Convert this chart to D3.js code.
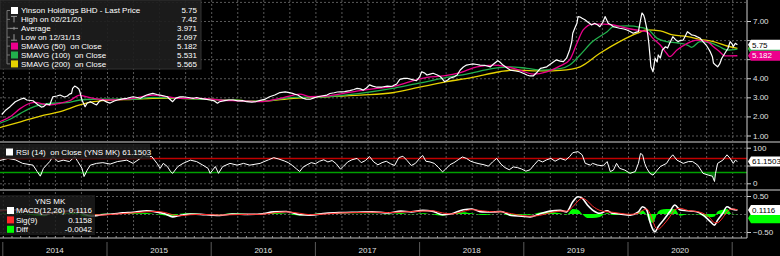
<!DOCTYPE html>
<html>
<head>
<meta charset="utf-8">
<script src="https://d3js.org/d3.v7.min.js"></script>
<style>
  html, body { margin: 0; padding: 0; background: #000; }
  svg { display: block; }
  text { font-family: "Liberation Sans", Arial, sans-serif; font-size: 8px; }
</style>
</head>
<body>
<svg id="chart"></svg>
<script>
// ---- data (decimal year, value) ----
const lastPrice = [
  [2013.99,2.10],[2014.03,2.34],[2014.07,2.51],[2014.12,2.77],[2014.17,2.90],[2014.20,2.96],[2014.23,2.86],[2014.29,2.82],[2014.34,2.60],[2014.37,2.49],
  [2014.39,2.51],[2014.42,2.65],[2014.45,2.60],[2014.48,3.03],[2014.52,3.07],[2014.55,3.12],[2014.59,3.02],[2014.62,3.07],[2014.64,3.17],[2014.66,3.21],
  [2014.67,3.47],[2014.69,3.59],[2014.71,3.53],[2014.73,3.44],[2014.74,3.29],[2014.76,2.86],[2014.79,2.51],[2014.81,2.70],[2014.84,2.77],[2014.88,2.65],
  [2014.90,2.60],[2014.93,2.81],[2014.96,2.86],[2015.00,2.75],[2015.03,2.70],[2015.07,2.81],[2015.10,2.86],[2015.14,2.91],[2015.19,2.95],[2015.22,2.99],
  [2015.25,3.03],[2015.29,2.99],[2015.32,2.95],[2015.36,3.07],[2015.38,3.12],[2015.41,3.17],[2015.44,3.21],[2015.48,3.15],[2015.51,3.12],[2015.55,3.07],
  [2015.58,3.03],[2015.60,2.91],[2015.63,2.77],[2015.66,2.96],[2015.70,3.02],[2015.73,3.03],[2015.78,2.99],[2015.83,2.95],[2015.86,2.99],[2015.89,2.95],
  [2015.94,2.91],[2015.99,2.86],[2016.03,2.81],[2016.06,2.69],[2016.08,2.77],[2016.13,2.83],[2016.17,2.86],[2016.21,2.86],[2016.26,2.81],[2016.30,2.83],
  [2016.34,2.77],[2016.39,2.75],[2016.43,2.78],[2016.47,2.84],[2016.52,2.91],[2016.56,3.03],[2016.61,3.12],[2016.66,3.25],[2016.71,3.29],[2016.75,3.25],
  [2016.78,3.21],[2016.80,3.17],[2016.83,3.12],[2016.88,2.95],[2016.91,2.91],[2016.95,2.90],[2016.98,2.96],[2017.02,3.03],[2017.06,3.07],[2017.11,3.12],
  [2017.14,3.20],[2017.18,3.24],[2017.21,3.28],[2017.24,3.29],[2017.28,3.30],[2017.33,3.35],[2017.37,3.41],[2017.40,3.47],[2017.43,3.44],[2017.46,3.38],
  [2017.49,3.49],[2017.52,3.65],[2017.55,3.59],[2017.59,3.53],[2017.64,3.54],[2017.69,3.59],[2017.72,3.57],[2017.74,3.59],[2017.78,3.70],[2017.81,3.94],
  [2017.85,3.99],[2017.88,4.00],[2017.93,3.93],[2017.97,3.87],[2018.00,4.07],[2018.02,4.34],[2018.05,4.27],[2018.07,4.17],[2018.10,4.22],[2018.13,4.26],
  [2018.17,4.17],[2018.20,4.08],[2018.22,3.96],[2018.24,3.82],[2018.27,3.91],[2018.29,4.00],[2018.33,4.07],[2018.36,4.17],[2018.39,4.43],[2018.42,4.59],
  [2018.45,4.69],[2018.48,4.72],[2018.51,4.75],[2018.55,4.72],[2018.58,4.69],[2018.63,4.67],[2018.68,4.60],[2018.71,4.75],[2018.75,4.92],[2018.77,4.85],
  [2018.80,4.69],[2018.84,4.54],[2018.87,4.43],[2018.92,4.38],[2018.96,4.34],[2019.00,4.25],[2019.03,4.17],[2019.06,4.12],[2019.09,4.12],[2019.13,4.33],
  [2019.16,4.52],[2019.18,4.54],[2019.22,4.60],[2019.27,4.80],[2019.31,4.96],[2019.35,4.90],[2019.38,4.87],[2019.41,5.05],[2019.44,5.48],[2019.46,5.90],
  [2019.47,6.36],[2019.49,6.63],[2019.51,6.88],[2019.52,7.23],[2019.54,7.21],[2019.56,7.14],[2019.59,7.05],[2019.61,6.96],[2019.64,6.84],[2019.65,6.79],
  [2019.68,6.88],[2019.71,6.79],[2019.73,6.70],[2019.76,6.95],[2019.78,7.23],[2019.81,6.88],[2019.84,6.79],[2019.86,6.70],[2019.89,6.66],[2019.92,6.62],
  [2019.96,6.58],[2019.99,6.53],[2020.02,6.45],[2020.05,6.36],[2020.08,6.42],[2020.10,6.44],[2020.12,7.05],[2020.134,7.42],[2020.15,7.31],[2020.16,7.14],
  [2020.18,6.62],[2020.19,6.27],[2020.20,5.83],[2020.21,5.22],[2020.22,4.60],[2020.24,4.34],[2020.26,5.05],[2020.28,4.85],[2020.29,5.22],[2020.31,5.06],
  [2020.33,5.48],[2020.36,5.65],[2020.38,5.58],[2020.40,5.83],[2020.43,6.18],[2020.46,6.00],[2020.48,5.92],[2020.50,5.98],[2020.53,6.00],[2020.55,6.21],
  [2020.57,6.44],[2020.60,6.32],[2020.61,6.27],[2020.64,6.24],[2020.66,6.18],[2020.69,6.11],[2020.72,5.92],[2020.75,5.74],[2020.77,5.57],[2020.79,5.38],
  [2020.81,5.13],[2020.82,4.80],[2020.84,4.69],[2020.86,4.60],[2020.88,4.75],[2020.90,5.05],[2020.93,5.31],[2020.96,5.57],[2020.98,5.92],[2021.00,5.79],
  [2021.01,5.65],[2021.03,5.83],[2021.05,5.75]
];

const sma50 = [
  [2013.97,1.72],[2014.07,1.98],[2014.17,2.42],[2014.26,2.69],[2014.31,2.74],[2014.39,2.65],[2014.45,2.60],[2014.55,2.69],[2014.64,2.82],[2014.74,3.12],
  [2014.77,3.07],[2014.87,2.95],[2015.03,2.86],[2015.25,2.95],[2015.44,3.12],[2015.58,3.03],[2015.70,2.95],[2015.89,2.95],[2016.08,2.86],[2016.28,2.82],
  [2016.47,2.77],[2016.66,2.95],[2016.79,3.12],[2016.85,3.17],[2016.95,3.03],[2017.11,3.07],[2017.27,3.21],[2017.43,3.35],[2017.59,3.47],[2017.74,3.56],
  [2017.91,3.82],[2018.07,4.05],[2018.23,4.12],[2018.39,4.29],[2018.55,4.60],[2018.71,4.69],[2018.80,4.64],[2018.96,4.43],[2019.09,4.22],[2019.22,4.34],
  [2019.35,4.65],[2019.44,4.96],[2019.51,5.83],[2019.57,6.53],[2019.66,6.84],[2019.76,6.84],[2019.86,6.79],[2019.99,6.62],[2020.12,6.49],[2020.18,6.44],
  [2020.24,6.09],[2020.31,5.74],[2020.37,5.31],[2020.40,5.13],[2020.47,5.48],[2020.57,5.83],[2020.66,6.00],[2020.76,5.92],[2020.82,5.65],[2020.88,5.39],
  [2020.93,5.17],[2021.05,5.18]
];

const sma100 = [
  [2013.97,1.64],[2014.07,1.85],[2014.17,2.16],[2014.26,2.42],[2014.36,2.60],[2014.48,2.69],[2014.61,2.72],[2014.74,2.86],[2014.87,2.90],[2015.03,2.90],
  [2015.25,2.90],[2015.44,3.00],[2015.70,2.95],[2015.96,2.90],[2016.21,2.86],[2016.47,2.79],[2016.79,3.00],[2017.11,3.03],[2017.43,3.21],[2017.74,3.47],
  [2017.91,3.65],[2018.07,3.82],[2018.26,4.05],[2018.45,4.22],[2018.71,4.52],[2018.87,4.60],[2019.03,4.52],[2019.18,4.43],[2019.35,4.50],[2019.44,4.69],
  [2019.54,5.22],[2019.66,5.92],[2019.80,6.44],[2019.86,6.70],[2019.99,6.74],[2020.12,6.67],[2020.19,6.57],[2020.28,6.09],[2020.37,5.92],[2020.47,5.86],
  [2020.57,5.74],[2020.61,5.62],[2020.69,5.92],[2020.79,5.86],[2020.88,5.65],[2020.95,5.48],[2021.05,5.53]
];

const sma200 = [
  [2013.97,1.41],[2014.17,1.72],[2014.36,2.02],[2014.55,2.25],[2014.74,2.60],[2014.87,2.77],[2015.03,2.86],[2015.25,2.90],[2015.44,2.95],[2015.70,2.95],
  [2015.96,2.90],[2016.21,2.86],[2016.47,2.79],[2016.79,2.95],[2017.11,3.03],[2017.43,3.12],[2017.74,3.24],[2018.00,3.53],[2018.26,3.82],[2018.51,4.05],
  [2018.77,4.34],[2018.90,4.43],[2019.09,4.39],[2019.28,4.39],[2019.35,4.41],[2019.54,4.60],[2019.73,5.31],[2019.92,5.92],[2020.09,6.36],[2020.18,6.53],
  [2020.31,6.48],[2020.43,6.27],[2020.57,6.18],[2020.69,6.04],[2020.82,5.92],[2020.95,5.69],[2021.05,5.565]
];

const rsi14 = [
  [2013.97,64],[2014.05,70],[2014.12,66],[2014.19,56],[2014.29,51],[2014.33,33],[2014.36,20],[2014.39,42],[2014.45,61],[2014.48,75],
  [2014.53,61],[2014.58,65],[2014.64,61],[2014.69,75],[2014.72,61],[2014.76,42],[2014.78,19],[2014.81,37],[2014.84,51],[2014.90,56],
  [2014.96,58],[2015.03,54],[2015.10,61],[2015.19,65],[2015.25,56],[2015.32,70],[2015.35,80],[2015.38,75],[2015.43,75],[2015.48,56],
  [2015.51,42],[2015.54,56],[2015.58,47],[2015.61,33],[2015.63,28],[2015.68,47],[2015.73,56],[2015.80,65],[2015.86,61],[2015.92,51],
  [2015.97,42],[2015.99,28],[2016.04,47],[2016.07,28],[2016.11,47],[2016.18,56],[2016.25,51],[2016.31,56],[2016.37,51],[2016.47,56],
  [2016.50,60],[2016.55,66],[2016.60,72],[2016.65,68],[2016.70,63],[2016.74,58],[2016.78,50],[2016.82,40],[2016.85,33],[2016.88,45],
  [2016.92,52],[2016.96,58],[2017.00,55],[2017.04,62],[2017.08,66],[2017.12,60],[2017.16,64],[2017.20,55],[2017.24,40],[2017.27,48],
  [2017.31,60],[2017.35,66],[2017.40,70],[2017.44,58],[2017.48,64],[2017.52,75],[2017.56,60],[2017.60,52],[2017.64,58],[2017.68,62],
  [2017.72,55],[2017.76,50],[2017.80,72],[2017.84,76],[2017.88,64],[2017.92,50],[2017.96,56],[2018.00,70],[2018.03,78],[2018.06,62],
  [2018.10,60],[2018.14,56],[2018.18,45],[2018.22,32],[2018.25,40],[2018.29,52],[2018.33,58],[2018.37,66],[2018.41,74],[2018.45,70],
  [2018.49,62],[2018.53,58],[2018.57,55],[2018.62,52],[2018.66,48],[2018.70,60],[2018.74,70],[2018.78,54],[2018.82,44],[2018.86,38],
  [2018.90,46],[2018.94,44],[2018.98,40],[2019.02,34],[2019.06,38],[2019.10,52],[2019.14,65],[2019.18,60],[2019.22,66],[2019.26,70],
  [2019.30,62],[2019.35,70],[2019.40,65],[2019.44,75],[2019.47,86],[2019.52,89],[2019.56,80],[2019.59,56],[2019.64,51],[2019.66,56],
  [2019.71,51],[2019.76,49],[2019.80,61],[2019.83,33],[2019.86,37],[2019.89,56],[2019.92,42],[2019.97,37],[2020.02,28],[2020.07,33],
  [2020.10,56],[2020.12,84],[2020.14,80],[2020.16,56],[2020.18,42],[2020.21,28],[2020.24,23],[2020.28,37],[2020.31,47],[2020.37,56],
  [2020.40,70],[2020.43,80],[2020.47,65],[2020.53,56],[2020.58,61],[2020.62,61],[2020.67,51],[2020.72,28],[2020.77,23],[2020.81,20],
  [2020.83,5],[2020.84,28],[2020.86,56],[2020.91,65],[2020.95,80],[2020.98,70],[2021.01,56],[2021.03,65],[2021.05,61.15]
];

const macdDates = [
  2013.97,2014.10,2014.25,2014.40,2014.50,2014.62,2014.70,2014.78,2014.85,2014.95,2015.05,2015.15,2015.25,2015.38,2015.47,2015.56,2015.63,2015.70,
  2015.80,2015.90,2016.00,2016.08,2016.20,2016.35,2016.47,2016.60,2016.72,2016.85,2016.95,2017.10,2017.25,2017.40,2017.55,2017.70,2017.82,2017.92,
  2018.03,2018.12,2018.22,2018.30,2018.42,2018.50,2018.60,2018.72,2018.78,2018.88,2018.98,2019.06,2019.15,2019.25,2019.35,2019.41,2019.47,2019.52,
  2019.56,2019.61,2019.66,2019.73,2019.80,2019.85,2019.92,2020.02,2020.10,2020.14,2020.18,2020.21,2020.24,2020.26,2020.29,2020.34,2020.40,2020.45,
  2020.50,2020.57,2020.66,2020.72,2020.79,2020.83,2020.86,2020.91,2020.95,2021.00,2021.05
];
const macdLine = [
  0.10,0.12,0.08,-0.02,0.06,0.08,0.12,0.00,-0.06,-0.02,0.00,0.03,0.05,0.09,0.06,0.00,-0.08,-0.04,
  0.00,-0.01,-0.03,-0.04,0.00,-0.01,0.00,0.06,0.07,-0.02,-0.03,0.02,0.04,0.05,0.06,0.03,0.08,0.06,
  0.10,0.08,-0.02,0.00,0.12,0.14,0.06,0.06,0.07,-0.04,-0.06,-0.08,0.00,0.08,0.10,0.06,0.34,0.48,
  0.44,0.25,0.11,0.02,0.09,0.02,0.00,-0.03,0.06,0.20,0.11,-0.21,-0.44,-0.49,-0.35,-0.17,0.06,0.25,
  0.11,0.09,0.06,-0.03,-0.21,-0.31,-0.17,0.02,0.20,0.13,0.1116
];
const signalLine = [
  0.09,0.10,0.10,0.04,0.02,0.06,0.08,0.07,0.00,-0.03,-0.01,0.01,0.03,0.06,0.07,0.04,-0.02,-0.05,
  -0.02,-0.01,-0.02,-0.03,-0.02,-0.01,-0.01,0.03,0.06,0.02,-0.02,0.00,0.03,0.04,0.05,0.04,0.05,0.07,
  0.08,0.09,0.03,0.00,0.07,0.12,0.09,0.06,0.06,0.01,-0.04,-0.06,-0.04,0.03,0.08,0.08,0.20,0.36,
  0.44,0.36,0.22,0.10,0.06,0.05,0.02,-0.01,0.02,0.10,0.14,0.02,-0.20,-0.36,-0.42,-0.30,-0.08,0.12,
  0.16,0.10,0.07,0.02,-0.12,-0.24,-0.24,-0.10,0.06,0.14,0.1158
];
const diffLine = [
  0.01,0.02,-0.02,-0.06,0.04,0.02,0.04,-0.07,-0.06,0.01,0.01,0.02,0.02,0.03,-0.01,-0.04,-0.06,0.01,
  0.02,0.00,-0.01,-0.01,0.02,0.00,0.01,0.03,0.01,-0.04,-0.01,0.02,0.01,0.01,0.01,-0.01,0.03,-0.01,
  0.02,-0.01,-0.05,0.00,0.05,0.02,-0.03,0.00,0.01,-0.05,-0.02,-0.02,0.04,0.05,0.02,-0.02,0.14,0.12,
  0.00,-0.11,-0.11,-0.08,0.03,-0.03,-0.02,-0.02,0.04,0.10,-0.03,-0.23,-0.24,-0.13,0.07,0.13,0.14,0.13,
  -0.05,-0.01,-0.01,-0.05,-0.09,-0.07,0.07,0.12,0.14,-0.01,-0.0042
];

const priceTicks = [1, 2, 3, 4, 5, 6, 7];
const priceGrid = [1, 2, 3, 4, 5, 6, 7, 8];
const rsiTicks = [0, 50, 100];
const rsiBands = [70, 30];
const macdTicks = [-0.5, 0, 0.5];
const years = [2014, 2015, 2016, 2017, 2018, 2019, 2020];

const legendLabels = ["Yinson Holdings BHD - Last Price", "High on 02/21/20", "Average", "Low on 12/31/13",
  "SMAVG (50)  on Close", "SMAVG (100)  on Close", "SMAVG (200)  on Close"];
const legendValues = ["5.75", "7.42", "3.971", "2.097", "5.182", "5.531", "5.565"];
const rsiLegend = "RSI (14)  on Close (YNS MK) 61.1503";
const rsiLast = "61.1503";
const macdTitle = "YNS MK";
const macdLabels = ["MACD(12,26)", "Sig(9)", "Diff"];
const macdValues = ["0.1116", "0.1158", "-0.0042"];

// ---- layout ----
const width = 780, height = 256;
const right = 747;
const axisY = 238;
const colors = {
  price: "#ffffff", sma50: "#ec008c", sma100: "#22b14c", sma200: "#e6d200",
  grid: "#585858", ob: "#c00000", os: "#00a000", sig: "#ff2a2a", diff: "#00ff00", label: "#e0e0e0"
};

const svg = d3.select("#chart").attr("width", width).attr("height", height);
svg.append("rect").attr("width", width).attr("height", height).attr("fill", "#000");

const x = d3.scaleLinear().domain([2015, 2020]).range([107, 628]);
const yPrice = d3.scaleLinear().domain([1, 7]).range([135.5, 21]);
const yRsi = d3.scaleLinear().domain([0, 100]).range([183.3, 147.7]);
const yMacd = d3.scaleLinear().domain([-0.5, 0.5]).range([232, 196]);

const defs = svg.append("defs");
[["clipPrice", 0, 141], ["clipRsi", 143, 189], ["clipMacd", 191, axisY]].forEach(c => {
  defs.append("clipPath").attr("id", c[0])
    .append("rect").attr("x", 0).attr("y", c[1]).attr("width", right).attr("height", c[2] - c[1]);
});

// vertical quarterly grid
const quarters = d3.range(2014, 2021.01, 0.25);
svg.append("g")
  .attr("transform", "translate(0," + axisY + ")")
  .call(d3.axisBottom(x).tickValues(quarters).tickSize(-axisY).tickFormat(""))
  .call(g => g.select(".domain").remove())
  .selectAll("line")
  .attr("stroke", colors.grid)
  .attr("stroke-dasharray", "2,2");

// horizontal grids
function hGrid(scale, values) {
  svg.append("g")
    .call(d3.axisRight(scale).tickValues(values).tickSize(right).tickFormat(""))
    .call(g => g.select(".domain").remove())
    .selectAll("line")
    .attr("stroke", colors.grid)
    .attr("stroke-dasharray", "2,2");
}
hGrid(yPrice, priceGrid);
hGrid(yRsi, rsiTicks);
hGrid(yMacd, macdTicks);

// panel separators
[142, 190].forEach(yy => {
  svg.append("line").attr("x1", 0).attr("x2", width).attr("y1", yy).attr("y2", yy)
    .attr("stroke", "#6a6a6a").attr("stroke-width", 2);
});

// ---- price panel ----
const pricePanel = svg.append("g").attr("clip-path", "url(#clipPrice)");
const priceLine = d3.line().x(d => x(d[0])).y(d => yPrice(d[1]));
[[sma200, colors.sma200], [sma100, colors.sma100], [sma50, colors.sma50]].forEach(s => {
  pricePanel.append("path").datum(s[0])
    .attr("fill", "none").attr("stroke", s[1]).attr("stroke-width", 1.3)
    .attr("d", priceLine.curve(d3.curveMonotoneX));
});
pricePanel.append("path").datum(lastPrice)
  .attr("fill", "none").attr("stroke", colors.price).attr("stroke-width", 1.2)
  .attr("stroke-linejoin", "round")
  .attr("d", priceLine.curve(d3.curveLinear));

// ---- rsi panel ----
const rsiPanel = svg.append("g").attr("clip-path", "url(#clipRsi)");
rsiPanel.append("path").datum(rsi14)
  .attr("fill", "#0b6b12")
  .attr("d", d3.area().x(d => x(d[0])).y0(yRsi(30)).y1(d => yRsi(Math.min(d[1], 30))));
rsiBands.forEach((b, i) => {
  rsiPanel.append("line").attr("x1", 0).attr("x2", right).attr("y1", yRsi(b)).attr("y2", yRsi(b))
    .attr("stroke", i === 0 ? colors.ob : colors.os).attr("stroke-width", 1.5);
});
rsiPanel.append("path").datum(rsi14)
  .attr("fill", "none").attr("stroke", "#fff").attr("stroke-width", 1)
  .attr("d", d3.line().x(d => x(d[0])).y(d => yRsi(d[1])));

// ---- macd panel ----
const macdPanel = svg.append("g").attr("clip-path", "url(#clipMacd)");
macdPanel.append("path").datum(macdDates)
  .attr("fill", colors.diff)
  .attr("d", d3.area().x(d => x(d)).y0(yMacd(0)).y1((d, i) => yMacd(diffLine[i])).curve(d3.curveMonotoneX));
macdPanel.append("path").datum(macdDates)
  .attr("fill", "none").attr("stroke", "#fff").attr("stroke-width", 1.6)
  .attr("d", d3.line().x(d => x(d)).y((d, i) => yMacd(macdLine[i])).curve(d3.curveMonotoneX));
macdPanel.append("path").datum(macdDates)
  .attr("fill", "none").attr("stroke", colors.sig).attr("stroke-width", 1)
  .attr("d", d3.line().x(d => x(d)).y((d, i) => yMacd(signalLine[i])).curve(d3.curveMonotoneX));

// ---- bottom axis ----
const months = d3.range(2014, 2021.1, 1 / 12);
svg.append("g")
  .attr("transform", "translate(0," + axisY + ")")
  .call(d3.axisBottom(x).tickValues(months).tickSize(-2).tickFormat(""))
  .call(g => g.select(".domain").attr("d", "M0,0H" + right).attr("stroke", "#bbb"))
  .selectAll(".tick line").attr("stroke", "#999");

svg.append("g").selectAll("line")
  .data(years.concat([2021]))
  .enter().append("line")
  .attr("x1", d => x(d)).attr("x2", d => x(d))
  .attr("y1", 242).attr("y2", height)
  .attr("stroke", "#5a5a5a");

svg.append("g").selectAll("text")
  .data(years)
  .enter().append("text")
  .attr("x", d => x(d + 0.5))
  .attr("y", 253)
  .attr("text-anchor", "middle")
  .attr("fill", colors.label)
  .text(d => d);

// ---- right axis ----
svg.append("line").attr("x1", right).attr("x2", right).attr("y1", 0).attr("y2", axisY)
  .attr("stroke", "#cfcfcf");

// labels that sit under a value tag are covered in the original, so only their tick is drawn
function rightAxis(scale, values, fmt, covered) {
  svg.append("g")
    .attr("transform", "translate(" + right + ",0)")
    .call(d3.axisRight(scale).tickValues(values).tickSize(4).tickPadding(2)
      .tickFormat(d => covered.includes(d) ? "" : fmt(d)))
    .call(g => g.select(".domain").remove())
    .call(g => g.selectAll("line").attr("stroke", "#cfcfcf"))
    .call(g => g.selectAll("text").attr("fill", colors.label).attr("font-size", 8)
      .attr("font-family", "Liberation Sans, Arial, sans-serif"));
}
rightAxis(yPrice, priceTicks, d3.format(".2f"), [5, 6]);
rightAxis(yRsi, rsiTicks, d3.format("d"), [50]);
rightAxis(yMacd, macdTicks.filter(d => d !== 0), d3.format(".2f"), []);

// value tags
function tagShape(yy, fill) {
  svg.append("path")
    .attr("d", "M" + (right + 1) + "," + yy + "L" + (right + 4) + "," + (yy - 5) + "H" + width +
      "V" + (yy + 5) + "H" + (right + 4) + "Z")
    .attr("fill", fill);
}
function tag(yy, label, fill, textFill) {
  tagShape(yy, fill);
  svg.append("text")
    .attr("x", right + 5).attr("y", yy).attr("dy", "0.35em")
    .attr("fill", textFill)
    .text(label);
}
tagShape(yPrice(+legendValues[6]), colors.sma200);
tagShape(yPrice(+legendValues[5]), colors.sma100);
tag(yPrice(+legendValues[4]), legendValues[4], colors.sma50, "#fff");
tag(yPrice(+legendValues[0]), legendValues[0], "#fff", "#000");
tag(yRsi(+rsiLast), rsiLast, "#fff", "#000");
tagShape(yMacd(+macdValues[2]) + 4, colors.diff);
tag(yMacd(+macdValues[0]), macdValues[0], "#fff", "#000");

// ---- legends ----
const leg = svg.append("g");
leg.append("rect").attr("x", 0).attr("y", 0).attr("width", 201).attr("height", 69)
  .attr("fill", "#1d1d1d").attr("fill-opacity", 0.92).attr("stroke", "#333");
const rowY = legendLabels.map((d, i) => 10.5 + i * 8.9);
leg.append("line").attr("x1", 7).attr("x2", 7).attr("y1", rowY[0]).attr("y2", rowY[6])
  .attr("stroke", "#777");
rowY.forEach(yy => leg.append("line").attr("x1", 7).attr("x2", 10).attr("y1", yy).attr("y2", yy).attr("stroke", "#777"));
const swatchColors = ["#fff", null, null, null, colors.sma50, colors.sma100, colors.sma200];
swatchColors.forEach((c, i) => {
  if (c) {
    leg.append("rect").attr("x", 11).attr("y", rowY[i] - 3.5).attr("width", 7).attr("height", 7).attr("fill", c);
  }
});
// high / average / low markers
leg.append("path").attr("d", `M11,${rowY[1] - 3}H17M14,${rowY[1] - 3}V${rowY[1] + 3}`).attr("stroke", "#999").attr("fill", "none");
leg.append("path").attr("d", `M10,${rowY[2]}H18M14,${rowY[2] - 1.5}V${rowY[2] + 1.5}`).attr("stroke", "#999").attr("fill", "none");
leg.append("path").attr("d", `M14,${rowY[3] - 3}V${rowY[3] + 3}M11,${rowY[3] + 3}H17`).attr("stroke", "#999").attr("fill", "none");

leg.selectAll(".lbl").data(legendLabels).enter().append("text")
  .attr("x", 21).attr("y", (d, i) => rowY[i]).attr("dy", "0.35em")
  .attr("fill", "#fff").style("white-space", "pre").text(d => d);
leg.selectAll(".val").data(legendValues).enter().append("text")
  .attr("x", 197).attr("y", (d, i) => rowY[i]).attr("dy", "0.35em")
  .attr("text-anchor", "end").attr("fill", "#fff").text(d => d);

// rsi legend
svg.append("rect").attr("x", 0).attr("y", 144).attr("width", 150).attr("height", 15)
  .attr("fill", "#1d1d1d").attr("fill-opacity", 0.85);
svg.append("rect").attr("x", 6).attr("y", 148.5).attr("width", 7).attr("height", 7).attr("fill", "#fff");
svg.append("text").attr("x", 16).attr("y", 152).attr("dy", "0.35em")
  .attr("fill", "#fff").style("white-space", "pre").text(rsiLegend);

// macd legend
svg.append("rect").attr("x", 0).attr("y", 195).attr("width", 95).attr("height", 40)
  .attr("fill", "#1d1d1d").attr("fill-opacity", 0.8);
svg.append("text").attr("x", 50).attr("y", 201.5).attr("dy", "0.35em").attr("text-anchor", "middle")
  .attr("fill", "#fff").text(macdTitle);
const macdSwatch = ["#fff", colors.sig, colors.diff];
macdLabels.forEach((d, i) => {
  const yy = 210.5 + i * 9.4;
  svg.append("rect").attr("x", 7).attr("y", yy - 3.5).attr("width", 7).attr("height", 7).attr("fill", macdSwatch[i]);
  svg.append("text").attr("x", 16).attr("y", yy).attr("dy", "0.35em").attr("fill", "#fff").text(d);
  svg.append("text").attr("x", 92).attr("y", yy).attr("dy", "0.35em").attr("text-anchor", "end")
    .attr("fill", "#fff").text(macdValues[i]);
});
</script>
</body>
</html>
